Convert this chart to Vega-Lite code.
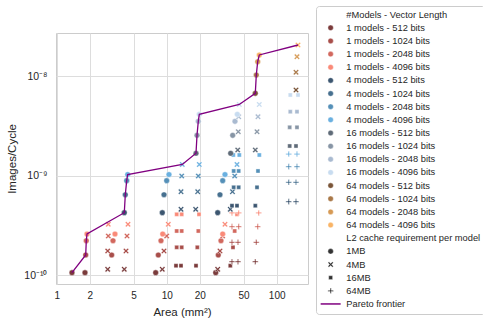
{
"$schema": "https://vega.github.io/schema/vega-lite/v6.json",
"width": 252, "height": 251,
"autosize": {"type": "none"},
"padding": {"left": 56, "top": 33, "right": 175, "bottom": 39},
"background": "white",
"config": {"view": {"stroke": "#cccccc", "strokeWidth": 1}, "font": "Liberation Sans"},
"datasets": {
"pts": [
{"g":"1 models - 512 bits","c":"1MB","x":1.377,"y":1.055e-10},{"g":"1 models - 512 bits","c":"1MB","x":1.808,"y":1.055e-10},{"g":"1 models - 512 bits","c":"1MB","x":7.943,"y":1.055e-10},{"g":"1 models - 512 bits","c":"1MB","x":27.90,"y":1.055e-10},
{"g":"1 models - 512 bits","c":"4MB","x":2.909,"y":1.141e-10},{"g":"1 models - 512 bits","c":"4MB","x":4.117,"y":1.141e-10},{"g":"1 models - 512 bits","c":"4MB","x":9.120,"y":1.141e-10},{"g":"1 models - 512 bits","c":"4MB","x":29.09,"y":1.141e-10},
{"g":"1 models - 512 bits","c":"16MB","x":12.15,"y":1.240e-10},{"g":"1 models - 512 bits","c":"16MB","x":13.49,"y":1.240e-10},{"g":"1 models - 512 bits","c":"16MB","x":18.47,"y":1.240e-10},{"g":"1 models - 512 bits","c":"16MB","x":37.86,"y":1.240e-10},
{"g":"1 models - 512 bits","c":"64MB","x":39.22,"y":1.360e-10},{"g":"1 models - 512 bits","c":"64MB","x":44.48,"y":1.360e-10},{"g":"1 models - 512 bits","c":"64MB","x":63.91,"y":1.360e-10},
{"g":"1 models - 1024 bits","c":"1MB","x":1.835,"y":1.589e-10},{"g":"1 models - 1024 bits","c":"1MB","x":3.162,"y":1.589e-10},{"g":"1 models - 1024 bits","c":"1MB","x":8.387,"y":1.589e-10},{"g":"1 models - 1024 bits","c":"1MB","x":29.45,"y":1.589e-10},
{"g":"1 models - 1024 bits","c":"4MB","x":2.909,"y":1.743e-10},{"g":"1 models - 1024 bits","c":"4MB","x":4.266,"y":1.743e-10},{"g":"1 models - 1024 bits","c":"4MB","x":9.452,"y":1.743e-10},{"g":"1 models - 1024 bits","c":"4MB","x":30.51,"y":1.743e-10},
{"g":"1 models - 1024 bits","c":"16MB","x":12.33,"y":1.898e-10},{"g":"1 models - 1024 bits","c":"16MB","x":13.69,"y":1.898e-10},{"g":"1 models - 1024 bits","c":"16MB","x":18.98,"y":1.898e-10},{"g":"1 models - 1024 bits","c":"16MB","x":40.06,"y":1.898e-10},
{"g":"1 models - 1024 bits","c":"64MB","x":39.22,"y":2.132e-10},{"g":"1 models - 1024 bits","c":"64MB","x":44.48,"y":2.132e-10},{"g":"1 models - 1024 bits","c":"64MB","x":65.25,"y":2.132e-10},
{"g":"1 models - 2048 bits","c":"1MB","x":1.858,"y":2.211e-10},{"g":"1 models - 2048 bits","c":"1MB","x":3.250,"y":2.211e-10},{"g":"1 models - 2048 bits","c":"1MB","x":8.875,"y":2.211e-10},{"g":"1 models - 2048 bits","c":"1MB","x":31.16,"y":2.211e-10},
{"g":"1 models - 2048 bits","c":"4MB","x":2.945,"y":2.466e-10},{"g":"1 models - 2048 bits","c":"4MB","x":4.356,"y":2.466e-10},{"g":"1 models - 2048 bits","c":"4MB","x":10.0,"y":2.466e-10},{"g":"1 models - 2048 bits","c":"4MB","x":32.29,"y":2.466e-10},
{"g":"1 models - 2048 bits","c":"16MB","x":12.33,"y":2.768e-10},{"g":"1 models - 2048 bits","c":"16MB","x":13.69,"y":2.768e-10},{"g":"1 models - 2048 bits","c":"16MB","x":19.38,"y":2.768e-10},{"g":"1 models - 2048 bits","c":"16MB","x":41.51,"y":2.768e-10},
{"g":"1 models - 2048 bits","c":"64MB","x":39.22,"y":3.058e-10},{"g":"1 models - 2048 bits","c":"64MB","x":45.13,"y":3.058e-10},{"g":"1 models - 2048 bits","c":"64MB","x":67.20,"y":3.058e-10},
{"g":"1 models - 4096 bits","c":"1MB","x":1.886,"y":2.582e-10},{"g":"1 models - 4096 bits","c":"1MB","x":3.388,"y":2.582e-10},{"g":"1 models - 4096 bits","c":"1MB","x":9.197,"y":2.582e-10},{"g":"1 models - 4096 bits","c":"1MB","x":32.29,"y":2.582e-10},
{"g":"1 models - 4096 bits","c":"4MB","x":2.945,"y":3.233e-10},{"g":"1 models - 4096 bits","c":"4MB","x":4.448,"y":3.233e-10},{"g":"1 models - 4096 bits","c":"4MB","x":10.34,"y":3.233e-10},{"g":"1 models - 4096 bits","c":"4MB","x":33.88,"y":3.233e-10},
{"g":"1 models - 4096 bits","c":"16MB","x":12.33,"y":4.074e-10},{"g":"1 models - 4096 bits","c":"16MB","x":13.69,"y":4.074e-10},{"g":"1 models - 4096 bits","c":"16MB","x":19.67,"y":4.074e-10},{"g":"1 models - 4096 bits","c":"16MB","x":43.56,"y":4.074e-10},
{"g":"1 models - 4096 bits","c":"64MB","x":39.22,"y":4.2e-10},{"g":"1 models - 4096 bits","c":"64MB","x":45.13,"y":4.2e-10},{"g":"1 models - 4096 bits","c":"64MB","x":68.62,"y":4.2e-10},
{"g":"4 models - 512 bits","c":"1MB","x":4.117,"y":4.228e-10},{"g":"4 models - 512 bits","c":"1MB","x":9.120,"y":4.228e-10},{"g":"4 models - 512 bits","c":"1MB","x":29.09,"y":4.228e-10},
{"g":"4 models - 512 bits","c":"4MB","x":13.49,"y":4.574e-10},{"g":"4 models - 512 bits","c":"4MB","x":18.34,"y":4.574e-10},{"g":"4 models - 512 bits","c":"4MB","x":37.86,"y":4.574e-10},
{"g":"4 models - 512 bits","c":"16MB","x":39.22,"y":4.971e-10},{"g":"4 models - 512 bits","c":"16MB","x":43.56,"y":4.971e-10},{"g":"4 models - 512 bits","c":"16MB","x":63.91,"y":4.971e-10},
{"g":"4 models - 512 bits","c":"64MB","x":128.6,"y":5.454e-10},{"g":"4 models - 512 bits","c":"64MB","x":149.8,"y":5.454e-10},
{"g":"4 models - 1024 bits","c":"1MB","x":4.204,"y":6.412e-10},{"g":"4 models - 1024 bits","c":"1MB","x":9.452,"y":6.412e-10},{"g":"4 models - 1024 bits","c":"1MB","x":30.51,"y":6.412e-10},
{"g":"4 models - 1024 bits","c":"4MB","x":13.49,"y":6.874e-10},{"g":"4 models - 1024 bits","c":"4MB","x":19.14,"y":6.874e-10},{"g":"4 models - 1024 bits","c":"4MB","x":39.63,"y":6.874e-10},
{"g":"4 models - 1024 bits","c":"16MB","x":40.65,"y":7.611e-10},{"g":"4 models - 1024 bits","c":"16MB","x":45.13,"y":7.611e-10},{"g":"4 models - 1024 bits","c":"16MB","x":66.22,"y":7.611e-10},
{"g":"4 models - 1024 bits","c":"64MB","x":128.6,"y":8.545e-10},{"g":"4 models - 1024 bits","c":"64MB","x":149.8,"y":8.545e-10},
{"g":"4 models - 2048 bits","c":"1MB","x":4.329,"y":8.866e-10},{"g":"4 models - 2048 bits","c":"1MB","x":10.0,"y":8.866e-10},{"g":"4 models - 2048 bits","c":"1MB","x":32.29,"y":8.866e-10},
{"g":"4 models - 2048 bits","c":"4MB","x":13.69,"y":9.886e-10},{"g":"4 models - 2048 bits","c":"4MB","x":19.38,"y":9.886e-10},{"g":"4 models - 2048 bits","c":"4MB","x":41.51,"y":9.886e-10},
{"g":"4 models - 2048 bits","c":"16MB","x":40.65,"y":1.110e-9},{"g":"4 models - 2048 bits","c":"16MB","x":45.13,"y":1.110e-9},{"g":"4 models - 2048 bits","c":"16MB","x":67.61,"y":1.110e-9},
{"g":"4 models - 2048 bits","c":"64MB","x":128.6,"y":1.226e-9},{"g":"4 models - 2048 bits","c":"64MB","x":152.9,"y":1.226e-9},
{"g":"4 models - 4096 bits","c":"1MB","x":4.420,"y":1.023e-9},{"g":"4 models - 4096 bits","c":"1MB","x":10.49,"y":1.023e-9},{"g":"4 models - 4096 bits","c":"1MB","x":33.88,"y":1.023e-9},
{"g":"4 models - 4096 bits","c":"4MB","x":13.86,"y":1.290e-9},{"g":"4 models - 4096 bits","c":"4MB","x":19.79,"y":1.290e-9},{"g":"4 models - 4096 bits","c":"4MB","x":43.56,"y":1.290e-9},
{"g":"4 models - 4096 bits","c":"16MB","x":40.31,"y":1.607e-9},{"g":"4 models - 4096 bits","c":"16MB","x":45.71,"y":1.607e-9},{"g":"4 models - 4096 bits","c":"16MB","x":69.48,"y":1.607e-9},
{"g":"4 models - 4096 bits","c":"64MB","x":128.6,"y":1.644e-9},{"g":"4 models - 4096 bits","c":"64MB","x":152.9,"y":1.644e-9},
{"g":"16 models - 512 bits","c":"1MB","x":18.47,"y":1.672e-9},{"g":"16 models - 512 bits","c":"1MB","x":38.17,"y":1.672e-9},
{"g":"16 models - 512 bits","c":"4MB","x":44.21,"y":1.804e-9},{"g":"16 models - 512 bits","c":"4MB","x":63.91,"y":1.804e-9},
{"g":"16 models - 512 bits","c":"16MB","x":131.3,"y":1.979e-9},{"g":"16 models - 512 bits","c":"16MB","x":149.8,"y":1.979e-9},
{"g":"16 models - 1024 bits","c":"1MB","x":18.86,"y":2.535e-9},{"g":"16 models - 1024 bits","c":"1MB","x":39.81,"y":2.535e-9},
{"g":"16 models - 1024 bits","c":"4MB","x":44.76,"y":2.755e-9},{"g":"16 models - 1024 bits","c":"4MB","x":66.22,"y":2.755e-9},
{"g":"16 models - 1024 bits","c":"16MB","x":131.3,"y":3.051e-9},{"g":"16 models - 1024 bits","c":"16MB","x":152.9,"y":3.051e-9},
{"g":"16 models - 2048 bits","c":"1MB","x":19.38,"y":3.505e-9},{"g":"16 models - 2048 bits","c":"1MB","x":41.77,"y":3.505e-9},
{"g":"16 models - 2048 bits","c":"4MB","x":45.13,"y":3.899e-9},{"g":"16 models - 2048 bits","c":"4MB","x":67.61,"y":3.899e-9},
{"g":"16 models - 2048 bits","c":"16MB","x":132.9,"y":4.377e-9},{"g":"16 models - 2048 bits","c":"16MB","x":152.9,"y":4.377e-9},
{"g":"16 models - 4096 bits","c":"1MB","x":19.79,"y":4.122e-9},{"g":"16 models - 4096 bits","c":"1MB","x":43.84,"y":4.122e-9},
{"g":"16 models - 4096 bits","c":"4MB","x":45.71,"y":5.172e-9},{"g":"16 models - 4096 bits","c":"4MB","x":69.48,"y":5.172e-9},
{"g":"16 models - 4096 bits","c":"16MB","x":132.9,"y":6.442e-9},{"g":"16 models - 4096 bits","c":"16MB","x":156.2,"y":6.442e-9},
{"g":"64 models - 512 bits","c":"1MB","x":63.91,"y":6.700e-9},{"g":"64 models - 512 bits","c":"4MB","x":149.8,"y":7.233e-9},
{"g":"64 models - 1024 bits","c":"1MB","x":65.25,"y":1.023e-8},{"g":"64 models - 1024 bits","c":"4MB","x":149.8,"y":1.090e-8},
{"g":"64 models - 2048 bits","c":"1MB","x":67.20,"y":1.392e-8},{"g":"64 models - 2048 bits","c":"4MB","x":152.9,"y":1.563e-8},
{"g":"64 models - 4096 bits","c":"1MB","x":69.48,"y":1.626e-8},{"g":"64 models - 4096 bits","c":"4MB","x":156.2,"y":2.049e-8}
],
"pareto": [
{"i":1,"x":1.377,"y":1.055e-10},{"i":2,"x":1.835,"y":1.589e-10},{"i":3,"x":1.858,"y":2.211e-10},{"i":4,"x":1.886,"y":2.582e-10},
{"i":5,"x":4.117,"y":4.228e-10},{"i":6,"x":4.204,"y":6.412e-10},{"i":7,"x":4.329,"y":8.866e-10},{"i":8,"x":4.420,"y":1.023e-9},
{"i":9,"x":13.86,"y":1.290e-9},{"i":10,"x":18.47,"y":1.672e-9},{"i":11,"x":18.86,"y":2.535e-9},{"i":12,"x":19.38,"y":3.505e-9},
{"i":13,"x":19.79,"y":4.122e-9},{"i":14,"x":45.71,"y":5.172e-9},{"i":15,"x":63.91,"y":6.700e-9},{"i":16,"x":65.25,"y":1.023e-8},
{"i":17,"x":67.20,"y":1.392e-8},{"i":18,"x":69.48,"y":1.626e-8},{"i":19,"x":156.2,"y":2.049e-8}
]
},
"encoding": {
"x": {"field": "x", "type": "quantitative", "title": "Area (mm²)",
 "scale": {"type": "log", "domain": [0.9855, 192.6], "nice": false},
 "axis": {"values": [1, 2, 5, 10, 20, 50, 100], "format": "~g", "grid": true, "gridColor": "#dddddd", "ticks": false, "domain": false,
  "labelFontSize": 10, "labelPadding": 6, "labelColor": "#262626", "titleFontSize": 11.5, "titleFontWeight": "normal", "titleColor": "#262626", "titlePadding": 6, "labelFlush": false}},
"y": {"field": "y", "type": "quantitative", "title": "Images/Cycle",
 "scale": {"type": "log", "domain": [8.12e-11, 2.705e-8], "nice": false},
 "axis": {"values": [1e-10, 1e-9, 1e-8], "labelExpr": "datum.value < 5e-10 ? '10⁻¹⁰' : datum.value < 5e-9 ? '10⁻⁹' : '10⁻⁸'", "grid": true, "gridColor": "#dddddd", "ticks": false, "domain": false,
  "labelFontSize": 10.5, "labelPadding": 9, "labelColor": "#262626", "titleFontSize": 11.5, "titleFontWeight": "normal", "titleColor": "#262626", "titlePadding": 6}}
},
"layer": [
{"data": {"name": "pts"},
 "mark": {"type": "point", "filled": true, "size": 32, "opacity": 1, "stroke": "white", "strokeWidth": 0.4},
 "encoding": {
  "color": {"field": "g", "type": "nominal",
   "scale": {"domain": ["#Models - Vector Length","1 models - 512 bits","1 models - 1024 bits","1 models - 2048 bits","1 models - 4096 bits","4 models - 512 bits","4 models - 1024 bits","4 models - 2048 bits","4 models - 4096 bits","16 models - 512 bits","16 models - 1024 bits","16 models - 2048 bits","16 models - 4096 bits","64 models - 512 bits","64 models - 1024 bits","64 models - 2048 bits","64 models - 4096 bits","L2 cache requirement per model","1MB","4MB","16MB","64MB","Pareto frontier"],
    "range": ["transparent","#7a3b3b","#a84e4a","#d2685e","#fa8a78","#3c5670","#47708f","#5590b8","#6ab0e0","#5f6b78","#8795a5","#a9bad0","#c8dcf0","#7a5538","#a97848","#d69a55","#f9b466","transparent","#333333","#333333","#333333","#333333","#800080"]},
   "legend": {"title": null, "orient": "none", "legendX": 260, "legendY": -27,
    "strokeColor": "#cccccc", "fillColor": "white", "padding": 4, "cornerRadius": 3,
    "labelFont": "Liberation Sans", "labelFontSize": 9.3, "labelColor": "#262626", "labelLimit": 300,
    "symbolSize": 30, "symbolOffset": 6, "labelOffset": 11, "rowPadding": 3.15, "symbolLimit": 40,
    "encoding": {"symbols": {
     "shape": {"value": {"expr": "datum.value === '4MB' ? 'M-1,-0.6L-0.6,-1L0,-0.4L0.6,-1L1,-0.6L0.4,0L1,0.6L0.6,1L0,0.4L-0.6,1L-1,0.6L-0.4,0Z' : datum.value === '16MB' ? 'M-0.72,-0.72L0.72,-0.72L0.72,0.72L-0.72,0.72Z' : datum.value === '64MB' ? 'M-0.22,-1L0.22,-1L0.22,-0.22L1,-0.22L1,0.22L0.22,0.22L0.22,1L-0.22,1L-0.22,0.22L-1,0.22L-1,-0.22L-0.22,-0.22Z' : datum.value === 'Pareto frontier' ? 'stroke' : 'circle'"}},
     "size": {"value": {"expr": "datum.value === 'Pareto frontier' ? 400 : 30"}},
     "stroke": {"value": {"expr": "datum.value === 'Pareto frontier' ? '#800080' : 'white'"}},
     "strokeWidth": {"value": {"expr": "datum.value === 'Pareto frontier' ? 1.5 : 0.4"}}
    }}}},
  "shape": {"field": "c", "type": "nominal", "legend": null,
   "scale": {"domain": ["1MB","4MB","16MB","64MB"],
    "range": ["circle","M-1,-0.6L-0.6,-1L0,-0.4L0.6,-1L1,-0.6L0.4,0L1,0.6L0.6,1L0,0.4L-0.6,1L-1,0.6L-0.4,0Z","M-0.72,-0.72L0.72,-0.72L0.72,0.72L-0.72,0.72Z","M-0.22,-1L0.22,-1L0.22,-0.22L1,-0.22L1,0.22L0.22,0.22L0.22,1L-0.22,1L-0.22,0.22L-1,0.22L-1,-0.22L-0.22,-0.22Z"]}}
 }},
{"data": {"name": "pareto"},
 "mark": {"type": "line", "color": "#800080", "strokeWidth": 1.3},
 "encoding": {"order": {"field": "i", "type": "quantitative"}}}
]
}
